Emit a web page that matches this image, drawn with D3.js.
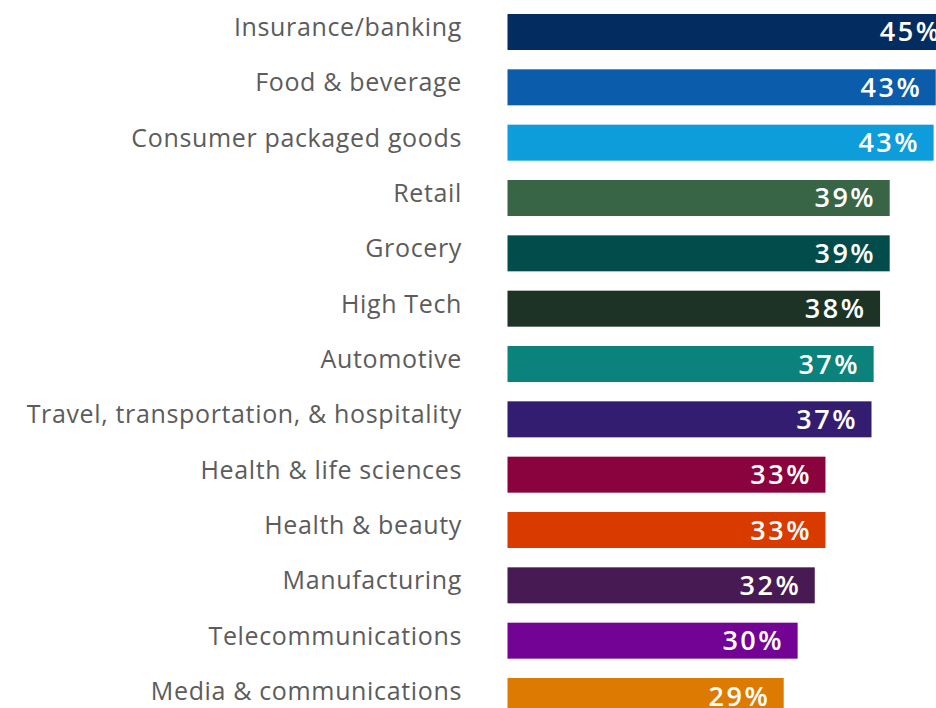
<!DOCTYPE html>
<html>
<head>
<meta charset="utf-8">
<script src="https://cdn.jsdelivr.net/npm/d3@7"></script>
<style>
  html, body { margin: 0; padding: 0; background: #ffffff; overflow: hidden; }
  svg { display: block; }
</style>
</head>
<body>
<script>
// ---- data ----
const categories = [
  "Insurance/banking",
  "Food & beverage",
  "Consumer packaged goods",
  "Retail",
  "Grocery",
  "High Tech",
  "Automotive",
  "Travel, transportation, & hospitality",
  "Health & life sciences",
  "Health & beauty",
  "Manufacturing",
  "Telecommunications",
  "Media & communications"
];
const values = [45.0, 43.2, 43.0, 38.9, 38.9, 38.0, 37.4, 37.2, 32.9, 32.9, 31.9, 30.3, 29.0];
const colors = [
  "#032d60", "#0b5cab", "#0d9dda", "#396547", "#024d4c", "#1c3326", "#0b827c",
  "#321d71", "#8a033e", "#d83a00", "#481a54", "#730394", "#dd7a01"
];

// ---- layout ----
const W = 936, H = 708;
const svg = d3.select("body").append("svg").attr("width", W).attr("height", H);

const x = d3.scaleLinear().domain([3.2, 45]).range([507.5, 955]);
const y = d3.scaleBand().domain(categories).range([14, 714]).paddingInner(0.3494).paddingOuter(0);
const fmt = v => Math.round(v) + "%";

const rows = svg.selectAll("g.row").data(categories).join("g").attr("class", "row");

rows.append("rect")
  .attr("x", x(x.domain()[0]))
  .attr("y", d => y(d))
  .attr("width", (d, i) => x(values[i]) - x(x.domain()[0]))
  .attr("height", y.bandwidth())
  .attr("fill", (d, i) => colors[i]);

rows.append("text")
  .attr("x", 462)
  .attr("y", d => y(d) + y.bandwidth() / 2 + 4)
  .attr("text-anchor", "end")
  .attr("font-family", "'Open Sans', sans-serif")
  .attr("font-size", 25)
  .attr("letter-spacing", 0.65)
  .attr("fill", "#5c5c5c")
  .text(d => d);

rows.append("text")
  .attr("x", (d, i) => x(values[i]) - 13.5)
  .attr("y", d => y(d) + y.bandwidth() / 2 + 9.5)
  .attr("text-anchor", "end")
  .attr("font-family", "'Open Sans', sans-serif")
  .attr("font-weight", 600)
  .attr("font-size", 27)
  .attr("letter-spacing", 2.5)
  .attr("fill", "#ffffff")
  .text((d, i) => fmt(values[i]));
</script>
</body>
</html>
